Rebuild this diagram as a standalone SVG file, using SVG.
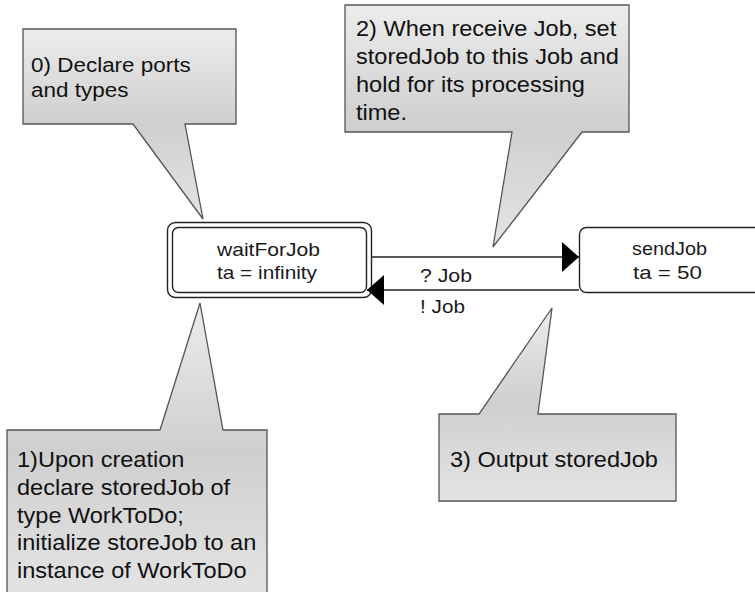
<svg xmlns="http://www.w3.org/2000/svg" width="755" height="592" viewBox="0 0 755 592">
  <defs>
    <linearGradient id="calloutFill" x1="0" y1="0" x2="0" y2="1">
      <stop offset="0" stop-color="#ececec"/>
      <stop offset="0.5" stop-color="#cfcfcf"/>
      <stop offset="1" stop-color="#e4e4e4"/>
    </linearGradient>
    <marker id="arrowHead" viewBox="0 0 17 30" refX="17" refY="15" markerWidth="17" markerHeight="30" markerUnits="userSpaceOnUse" orient="auto">
      <path d="M0,0 L17,15 L0,30 Z" fill="#000"/>
    </marker>
    <style>
      .callout { fill: url(#calloutFill); stroke: #555; stroke-width: 1.3; stroke-linejoin: miter; }
      .note { font-family: "Liberation Sans", Arial, sans-serif; font-size: 22px; fill: #111; }
      .state { fill: #fff; stroke: #222; stroke-width: 1.4; }
      .label { font-family: "Liberation Sans", Arial, sans-serif; font-size: 19px; fill: #1a1a1a; }
      .edge { stroke: #222; stroke-width: 1.6; fill: none; }
    </style>
  </defs>

  <rect width="755" height="592" fill="#fff"/>

  <!-- Callout 0 -->
  <g id="note0">
    <path class="callout" d="M23,29 H236 V124 H185 L203,219 L133,124 H23 Z"/>
    <text class="note" style="font-size:21px" transform="translate(31,72) scale(1.07,1)">0) Declare ports</text>
    <text class="note" style="font-size:21px" transform="translate(31,97) scale(1.07,1)">and types</text>
  </g>

  <!-- Callout 2 -->
  <g id="note2">
    <path class="callout" d="M345,5 H629 V132 H582 L493,247 L512,132 H345 Z"/>
    <text class="note" transform="translate(356,36) scale(1.07,1)">2) When receive Job, set</text>
    <text class="note" transform="translate(356,64) scale(1.07,1)">storedJob to this Job and</text>
    <text class="note" transform="translate(356,92) scale(1.07,1)">hold for its processing</text>
    <text class="note" transform="translate(356,120) scale(1.07,1)">time.</text>
  </g>

  <!-- Callout 1 -->
  <g id="note1">
    <path class="callout" d="M7,600 V430 H160 L200,303 L223,430 H267 V600"/>
    <text class="note" transform="translate(17,467) scale(1.07,1)">1)Upon creation</text>
    <text class="note" transform="translate(17,495) scale(1.07,1)">declare storedJob of</text>
    <text class="note" transform="translate(17,523) scale(1.07,1)">type WorkToDo;</text>
    <text class="note" transform="translate(17,550) scale(1.07,1)">initialize storeJob to an</text>
    <text class="note" transform="translate(17,578) scale(1.07,1)">instance of WorkToDo</text>
  </g>

  <!-- Callout 3 -->
  <g id="note3">
    <path class="callout" d="M439,414 H479 L552,308 L538,414 H676 V501 H439 Z"/>
    <text class="note" transform="translate(450,467) scale(1.07,1)">3) Output storedJob</text>
  </g>

  <!-- Initial state: double border -->
  <g id="waitForJob">
    <rect class="state" x="167.5" y="222.5" width="204" height="75" rx="8"/>
    <rect class="state" x="172.5" y="227.5" width="194" height="65" rx="6"/>
    <text class="label" x="217" y="256" textLength="103" lengthAdjust="spacingAndGlyphs">waitForJob</text>
    <text class="label" x="217" y="279" textLength="100" lengthAdjust="spacingAndGlyphs">ta = infinity</text>
  </g>

  <g id="sendJob">
    <rect class="state" x="579.5" y="227.5" width="200" height="65" rx="7"/>
    <text class="label" x="632" y="255" textLength="75" lengthAdjust="spacingAndGlyphs">sendJob</text>
    <text class="label" x="633" y="279" textLength="69" lengthAdjust="spacingAndGlyphs">ta = 50</text>
  </g>

  <!-- Transitions -->
  <g id="connectors">
    <line class="edge" x1="371" y1="257" x2="579" y2="257" marker-end="url(#arrowHead)"/>
    <text class="label" x="420" y="282" textLength="52" lengthAdjust="spacingAndGlyphs">? Job</text>
    <line class="edge" x1="579" y1="290" x2="367" y2="290" marker-end="url(#arrowHead)"/>
    <text class="label" x="420" y="313" textLength="45" lengthAdjust="spacingAndGlyphs">! Job</text>
  </g>
</svg>
